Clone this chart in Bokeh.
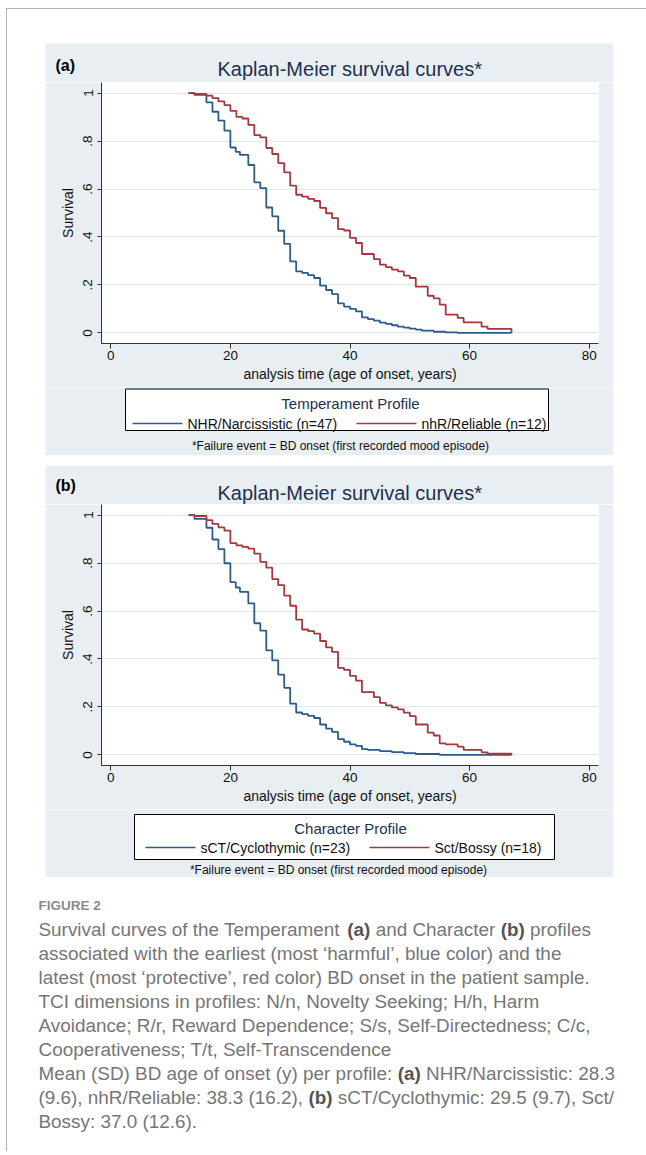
from bokeh.plotting import figure
from bokeh.models import Range1d, FixedTicker
from bokeh.layouts import column
from bokeh.embed import file_html
from bokeh.resources import INLINE
from bokeh.core.properties import value

# ------------------------------------------------------------------ data
x_ticks = [0, 20, 40, 60, 80]
y_ticks = [0, 0.2, 0.4, 0.6, 0.8, 1]
y_tick_labels = ["0", ".2", ".4", ".6", ".8", "1"]
x_label = "analysis time (age of onset, years)"
y_label = "Survival"
plot_title = "Kaplan-Meier survival curves*"
footnote = "*Failure event = BD onset (first recorded mood episode)"

# panel (a) Temperament
a_tag = "(a)"
a_legend_title = "Temperament Profile"
a_blue_label = "NHR/Narcissistic (n=47)"
a_red_label = "nhR/Reliable (n=12)"
a_blue_age = [13, 14, 16, 17, 18, 19, 20, 20.9, 21.6, 23, 24, 25, 26, 27, 28, 29, 30, 31, 32, 33,
              34, 35, 36, 37, 38, 39, 40, 41, 42, 43, 44, 45, 46, 47, 48, 49, 50, 51, 52, 54, 56, 58, 67]
a_blue_surv = [1.0, 0.992, 0.961, 0.922, 0.885, 0.843, 0.773, 0.755, 0.742, 0.700, 0.628, 0.604,
               0.523, 0.486, 0.426, 0.371, 0.298, 0.257, 0.250, 0.241, 0.229, 0.197, 0.179, 0.162,
               0.123, 0.110, 0.100, 0.090, 0.065, 0.058, 0.051, 0.043, 0.038, 0.032, 0.026, 0.022,
               0.018, 0.014, 0.010, 0.005, 0.002, 0.0, 0.0]
a_red_age = [13, 14, 16, 17, 18, 19, 20, 21, 22, 23, 24, 25, 26, 27, 28, 29, 30, 31, 32, 33, 34,
             35, 36, 37, 38, 39, 40, 41, 42, 44, 45, 46, 47, 48, 49, 50, 51, 53, 54, 55, 56, 58,
             59, 62, 63, 67]
a_red_surv = [1.0, 0.996, 0.989, 0.979, 0.965, 0.950, 0.926, 0.901, 0.894, 0.867, 0.825, 0.815,
              0.771, 0.746, 0.708, 0.669, 0.614, 0.576, 0.568, 0.559, 0.550, 0.521, 0.499, 0.479,
              0.433, 0.427, 0.396, 0.375, 0.329, 0.308, 0.285, 0.274, 0.264, 0.257, 0.239, 0.229,
              0.193, 0.155, 0.144, 0.118, 0.076, 0.0625, 0.044, 0.026, 0.017, 0.0]

# panel (b) Character
b_tag = "(b)"
b_legend_title = "Character Profile"
b_blue_label = "sCT/Cyclothymic (n=23)"
b_red_label = "Sct/Bossy (n=18)"
b_blue_age = [13, 14, 16, 17, 18, 19, 20, 20.9, 21.6, 23, 24, 25, 26, 27, 28, 29, 30, 31, 32, 33,
              34, 35, 36, 37, 38, 39, 40, 41, 42, 43, 45, 47, 49, 51, 55, 67]
b_blue_surv = [1.0, 0.984, 0.947, 0.898, 0.858, 0.799, 0.720, 0.698, 0.680, 0.632, 0.549, 0.518,
               0.436, 0.394, 0.335, 0.280, 0.214, 0.177, 0.170, 0.163, 0.154, 0.127, 0.110, 0.096,
               0.066, 0.055, 0.044, 0.038, 0.024, 0.021, 0.016, 0.012, 0.008, 0.004, 0.0, 0.0]
b_red_age = [13, 14, 16, 17, 18, 19, 20, 21, 22, 23, 24, 25, 26, 27, 28, 29, 30, 31, 32, 33, 34,
             35, 36, 37, 38, 39, 40, 41, 42, 44, 45, 46, 47, 48, 49, 50, 51, 53, 54, 55, 56, 58,
             59, 62, 63, 67]
b_red_surv = [1.0, 0.996, 0.979, 0.963, 0.949, 0.935, 0.883, 0.874, 0.867, 0.860, 0.839, 0.805,
              0.781, 0.733, 0.708, 0.664, 0.622, 0.564, 0.523, 0.516, 0.506, 0.475, 0.448, 0.430,
              0.363, 0.355, 0.330, 0.310, 0.262, 0.241, 0.217, 0.207, 0.198, 0.190, 0.176, 0.162,
              0.127, 0.093, 0.081, 0.048, 0.044, 0.035, 0.021, 0.011, 0.005, 0.0]

# caption (text, bold) segments per line
caption_label = "FIGURE 2"
caption_lines = [
    [("Survival curves of the Temperament", False), ("(a)", True), ("and Character", False),
     ("(b)", True), ("profiles", False)],
    [("associated with the earliest (most \u2018harmful\u2019, blue color) and the", False)],
    [("latest (most \u2018protective\u2019, red color) BD onset in the patient sample.", False)],
    [("TCI dimensions in profiles: N/n, Novelty Seeking; H/h, Harm", False)],
    [("Avoidance; R/r, Reward Dependence; S/s, Self-Directedness; C/c,", False)],
    [("Cooperativeness; T/t, Self-Transcendence", False)],
    [("Mean (SD) BD age of onset (y) per profile:", False), ("(a)", True),
     ("NHR/Narcissistic: 28.3", False)],
    [("(9.6), nhR/Reliable: 38.3 (16.2),", False), ("(b)", True),
     ("sCT/Cyclothymic: 29.5 (9.7), Sct/", False)],
    [("Bossy: 37.0 (12.6).", False)],
]

# ------------------------------------------------------------------ style / layout
FONT = "Liberation Sans"
PANEL_BG = "#e8eef1"
GRID = "#e3ebee"
BLUE = "#2e5c8a"
RED = "#a3393f"
NAVY = "#1e3050"
AXIS = "#333333"

# Arial / Liberation Sans advance widths (1/1000 em) used to chain caption segments
_W = dict(zip("abcdefghijklmnopqrstuvwxyz",
              [556, 556, 500, 556, 556, 278, 556, 556, 222, 222, 500, 222, 833, 556, 556, 556,
               556, 333, 500, 278, 556, 500, 722, 500, 500, 500]))
_W.update(dict(zip("ABCDEFGHIJKLMNOPQRSTUVWXYZ",
                   [667, 667, 722, 722, 667, 611, 778, 722, 278, 500, 667, 556, 833, 722, 778,
                    667, 778, 722, 667, 611, 722, 667, 944, 667, 667, 611])))
_W.update({c: 556 for c in "0123456789"})
_W.update({" ": 278, "(": 333, ")": 333, ",": 278, ".": 278, ":": 278, "/": 278, "=": 584,
           "-": 333, ";": 278, "\u2018": 222, "\u2019": 222})
_WB = {"(": 333, ")": 333, "a": 556, "b": 611}


def text_w(s, size, bold=False):
    tab = _WB if bold else _W
    return sum(tab.get(c, _W.get(c, 556)) for c in s) * size / 1000.0


# page geometry in page px (Bokeh's page has no body margin, so the column is offset itself)
FRAME_X, FRAME_Y = 6, 8            # outer grey frame line position
X0, Y0 = FRAME_X + 1, FRAME_Y + 1  # content origin
PAGE_W = 646
PANEL_L = 45
PANEL_W = 568
HEAD_H = 39
PLOT_H = 305
LEG_H = 68
A_TOP = 43
B_TOP = 465
CAP_TOP = B_TOP + HEAD_H + PLOT_H + LEG_H
CAP_W = PAGE_W - X0
CAP_H = 274
ML = PANEL_L - X0
MR = PAGE_W - PANEL_L - PANEL_W


def header_fig(top, tag, tag_y, title_y, top_margin):
    f = figure(width=PANEL_W, height=HEAD_H, margin=(top_margin, MR, 0, ML),
               x_range=Range1d(PANEL_L, PANEL_L + PANEL_W), y_range=Range1d(top + HEAD_H, top),
               output_backend="svg", toolbar_location=None, frame_align=False, min_border=0,
               x_axis_location=None, y_axis_location=None,
               background_fill_color=PANEL_BG, border_fill_color=PANEL_BG,
               outline_line_color=None)
    f.grid.visible = False
    f.text(x=[55], y=[tag_y], text=[tag], text_font=value(FONT), text_font_size="16px",
           text_font_style="bold", text_color="black", text_align="left",
           text_baseline="middle")
    f.text(x=[349.2], y=[title_y], text=[plot_title], text_font=value(FONT),
           text_font_size="20px", text_color=NAVY, text_align="center", text_baseline="middle")
    return f


def km_plot(ba, bs, ra, rs):
    p = figure(width=PANEL_W, height=PLOT_H, margin=(0, MR, 0, ML),
               x_range=Range1d(-1.55, 81.55), y_range=Range1d(-0.044, 1.044),
               output_backend="svg", toolbar_location=None, frame_align=False,
               min_border_left=56, min_border_right=15, min_border_top=0, min_border_bottom=44,
               background_fill_color="white", border_fill_color=PANEL_BG,
               outline_line_color=None)

    for ax in (p.xaxis[0], p.yaxis[0]):
        ax.axis_line_color = AXIS
        ax.major_tick_line_color = AXIS
        ax.major_tick_in = 0
        ax.minor_tick_line_color = None
        ax.major_label_text_font = FONT
        ax.major_label_text_font_size = "13.5px"
        ax.major_label_text_color = "#111111"
        ax.axis_label_text_font = FONT
        ax.axis_label_text_font_size = "14px"
        ax.axis_label_text_font_style = "normal"
        ax.axis_label_text_color = "#111111"

    p.xaxis.ticker = FixedTicker(ticks=x_ticks)
    p.xaxis.axis_label = x_label
    p.xaxis.major_tick_out = 5
    p.xaxis.major_label_standoff = 2
    p.xaxis.axis_label_standoff = 3

    p.yaxis.ticker = FixedTicker(ticks=y_ticks)
    p.yaxis.major_label_overrides = {t: l for t, l in zip(y_ticks, y_tick_labels)}
    p.yaxis.major_label_orientation = "vertical"
    p.yaxis.axis_label = y_label
    p.yaxis.major_tick_out = 4
    p.yaxis.major_label_standoff = 5
    p.yaxis.axis_label_standoff = 5

    p.xgrid.grid_line_color = None
    p.ygrid.grid_line_color = GRID
    p.ygrid.grid_line_width = 1.5

    p.step(x=ba, y=bs, mode="after", line_color=BLUE, line_width=1.8)
    p.step(x=ra, y=rs, mode="after", line_color=RED, line_width=1.8)
    return p


def legend_fig(top, leg_title, lab_blue, lab_red, box, title_y, item_y, foot_x, foot_y,
               blue_x, red_x):
    f = figure(width=PANEL_W, height=LEG_H, margin=(0, MR, 0, ML),
               x_range=Range1d(PANEL_L, PANEL_L + PANEL_W), y_range=Range1d(top + LEG_H, top),
               output_backend="svg", toolbar_location=None, frame_align=False, min_border=0,
               x_axis_location=None, y_axis_location=None,
               background_fill_color=PANEL_BG, border_fill_color=PANEL_BG,
               outline_line_color=None)
    f.grid.visible = False
    f.quad(left=[box[0]], right=[box[1]], top=[box[2]], bottom=[box[3]],
           fill_color="white", line_color="black", line_width=1)
    f.text(x=[350], y=[title_y], text=[leg_title], text_font=value(FONT),
           text_font_size="15px", text_color=NAVY, text_align="center", text_baseline="middle")
    f.line(x=[blue_x, blue_x + 50], y=[item_y, item_y], line_color=BLUE, line_width=1.5)
    f.line(x=[red_x, red_x + 60], y=[item_y, item_y], line_color=RED, line_width=1.5)
    f.text(x=[blue_x + 55, red_x + 65], y=[item_y, item_y], text=[lab_blue, lab_red],
           text_font=value(FONT), text_font_size="14px", text_color="#111111",
           text_align="left", text_baseline="middle")
    f.text(x=[foot_x], y=[foot_y], text=[footnote], text_font=value(FONT),
           text_font_size="12px", text_color="#111111", text_align="center",
           text_baseline="middle")
    return f


ha = header_fig(A_TOP, a_tag, 65, 68, A_TOP - Y0)
pa = km_plot(a_blue_age, a_blue_surv, a_red_age, a_red_surv)
la = legend_fig(A_TOP + HEAD_H + PLOT_H, a_legend_title, a_blue_label, a_red_label,
                box=(125, 548, 388.5, 430), title_y=403, item_y=423, foot_x=340, foot_y=445,
                blue_x=132, red_x=356)
hb = header_fig(B_TOP, b_tag, 485, 492, B_TOP - (A_TOP + HEAD_H + PLOT_H + LEG_H))
pb = km_plot(b_blue_age, b_blue_surv, b_red_age, b_red_surv)
lb = legend_fig(B_TOP + HEAD_H + PLOT_H, b_legend_title, b_blue_label, b_red_label,
                box=(134, 554, 814, 859), title_y=828, item_y=847, foot_x=338, foot_y=869,
                blue_x=145, red_x=369)

# caption figure (page coordinates)
cap = figure(width=CAP_W, height=CAP_H, x_range=Range1d(X0, X0 + CAP_W),
             y_range=Range1d(CAP_TOP + CAP_H, CAP_TOP),
             output_backend="svg", toolbar_location=None, min_border=0, frame_align=False,
             x_axis_location=None, y_axis_location=None,
             background_fill_color="white", border_fill_color="white", outline_line_color=None)
cap.grid.visible = False

cap.text(x=[38], y=[905], text=[caption_label], text_font=value(FONT),
         text_font_size="13.5px", text_font_style="bold", text_color="#8a8a8a",
         text_baseline="middle", text_align="left")

CAP_SIZE = 18.9
line_y = [929, 953, 977, 1001, 1025, 1049, 1073, 1097, 1121]
xs, ys, ts, xb, yb, tb = [], [], [], [], [], []
for line, yl in zip(caption_lines, line_y):
    xx = 38.0
    for t, bold in line:
        if bold:
            xb.append(xx); yb.append(yl); tb.append(t)
        else:
            xs.append(xx); ys.append(yl); ts.append(t)
        xx += text_w(t, CAP_SIZE, bold) + text_w(" ", CAP_SIZE)
cap.text(x=xs, y=ys, text=ts, text_font=value(FONT), text_font_size=f"{CAP_SIZE}px",
         text_color="#767676", text_baseline="middle", text_align="left")
cap.text(x=xb, y=yb, text=tb, text_font=value(FONT), text_font_size=f"{CAP_SIZE}px",
         text_font_style="bold", text_color="#555555", text_baseline="middle", text_align="left")

layout = column(ha, pa, la, hb, pb, lb, cap, margin=(FRAME_Y, 0, 0, FRAME_X),
                styles={"border-left": "1px solid #b4b4b4", "border-top": "1px solid #b4b4b4",
                        "background-color": "white"})

open("out.html", "w").write(file_html(layout, INLINE))
